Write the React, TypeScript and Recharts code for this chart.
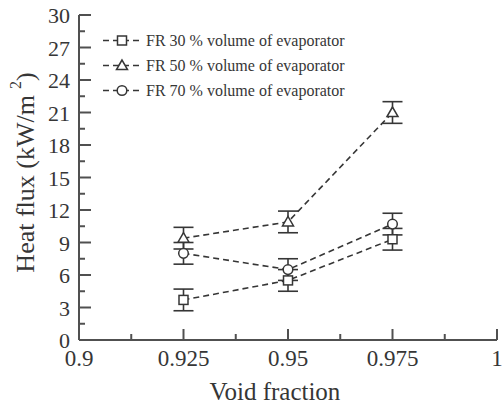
import React from "react";
import { LineChart, Line, XAxis, YAxis, ErrorBar, Legend } from "recharts";

const voidFraction = [0.925, 0.95, 0.975];
const fr30 = [3.7, 5.5, 9.3];
const fr50 = [9.4, 10.9, 21.0];
const fr70 = [8.0, 6.5, 10.7];
const errors = [1.0, 1.0, 1.0];

const xTicks = [0.9, 0.9125, 0.925, 0.9375, 0.95, 0.9625, 0.975, 0.9875, 1];
const xMajor = [0.9, 0.925, 0.95, 0.975, 1];
const yTicks = [0, 1.5, 3, 4.5, 6, 7.5, 9, 10.5, 12, 13.5, 15, 16.5, 18, 19.5, 21, 22.5, 24, 25.5, 27, 28.5, 30];
const yMajor = [0, 3, 6, 9, 12, 15, 18, 21, 24, 27, 30];

const seriesNames = [
  "FR 30 % volume of evaporator",
  "FR 50 % volume of evaporator",
  "FR 70 % volume of evaporator",
];
const markerShapes = ["square", "triangle", "circle"];

const data = voidFraction.map((v, i) => ({
  x: v,
  fr30: fr30[i],
  fr50: fr50[i],
  fr70: fr70[i],
  err: errors[i],
}));

const INK = "#363636";
const AXIS = "#505050";
const FONT = "'Liberation Serif', 'Times New Roman', serif";

const Marker = ({ shape, cx, cy }: { shape: string; cx: number; cy: number }) => {
  if (shape === "square")
    return <rect x={cx - 4.5} y={cy - 4.5} width={9} height={9} fill="#fff" stroke={INK} strokeWidth={1.5} />;
  if (shape === "triangle")
    return (
      <polygon
        points={`${cx},${cy - 5.5} ${cx - 5.5},${cy + 4} ${cx + 5.5},${cy + 4}`}
        fill="#fff"
        stroke={INK}
        strokeWidth={1.5}
      />
    );
  return <circle cx={cx} cy={cy} r={4.8} fill="#fff" stroke={INK} strokeWidth={1.5} />;
};

const makeDot = (shape: string) => (props: any) => {
  const { cx, cy, index } = props;
  if (cx == null || cy == null) return <g key={index} />;
  return <Marker key={index} shape={shape} cx={cx} cy={cy} />;
};

const BottomTick = (props: any) => {
  const { x, y, payload } = props;
  const major = xMajor.includes(payload.value);
  return (
    <g>
      <line x1={x} y1={y} x2={x} y2={y - (major ? 11 : 6)} stroke={AXIS} strokeWidth={2} />
      {major && (
        <text x={x} y={y + 26} textAnchor="middle" fontSize={23} fontFamily={FONT} fill={INK}>
          {String(payload.value)}
        </text>
      )}
    </g>
  );
};

const TopTick = (props: any) => {
  const { x, y, payload } = props;
  const major = xMajor.includes(payload.value);
  return <line x1={x} y1={y} x2={x} y2={y + (major ? 11 : 6)} stroke={AXIS} strokeWidth={2} />;
};

const LeftTick = (props: any) => {
  const { x, y, payload } = props;
  const major = yMajor.includes(payload.value);
  return (
    <g>
      <line x1={x} y1={y} x2={x + (major ? 12 : 6)} y2={y} stroke={AXIS} strokeWidth={2} />
      {major && (
        <text x={x - 9} y={y + 8} textAnchor="end" fontSize={22} fontFamily={FONT} fill={INK}>
          {String(payload.value)}
        </text>
      )}
    </g>
  );
};

const RightTick = (props: any) => {
  const { x, y, payload } = props;
  const major = yMajor.includes(payload.value);
  return <line x1={x} y1={y} x2={x - (major ? 12 : 6)} y2={y} stroke={AXIS} strokeWidth={2} />;
};

const YLabel = (props: any) => {
  const { viewBox } = props;
  const cy = viewBox.y + viewBox.height / 2 - 5;
  return (
    <text
      x={25}
      y={cy}
      transform={`rotate(-90, 25, ${cy})`}
      textAnchor="middle"
      dominantBaseline="central"
      fontSize={26}
      fontFamily={FONT}
      fill={INK}
    >
      Heat flux (kW/m
      <tspan dx={6} dy={-10} fontSize={16}>2</tspan>
      <tspan dy={10}>)</tspan>
    </text>
  );
};

const XLabel = (props: any) => {
  const { viewBox } = props;
  const cx = viewBox.x + viewBox.width / 2 - 13;
  return (
    <text x={cx} y={400} textAnchor="middle" fontSize={25} fontFamily={FONT} fill={INK}>
      Void fraction
    </text>
  );
};

const LegendContent = () => (
  <div style={{ fontFamily: FONT, fontSize: 16, color: INK, lineHeight: "25px" }}>
    {seriesNames.map((name, i) => (
      <div key={name} style={{ display: "flex", alignItems: "center", whiteSpace: "nowrap" }}>
        <svg width={42} height={25} style={{ marginRight: 2 }}>
          <line x1={1} y1={12.5} x2={40} y2={12.5} stroke={INK} strokeWidth={1.5} strokeDasharray="6 4" />
          <Marker shape={markerShapes[i]} cx={20} cy={12.5} />
        </svg>
        <span>{name}</span>
      </div>
    ))}
  </div>
);

export default function App() {
  return (
    <div style={{ position: "absolute", left: 0, top: 0, width: 502, height: 405, background: "#fff" }}>
      <LineChart width={502} height={405} data={data} margin={{ top: 15, right: 5, bottom: 0, left: 0 }}>
        <XAxis
          xAxisId="bottom"
          dataKey="x"
          type="number"
          domain={[0.9, 1]}
          ticks={xTicks}
          interval={0}
          tickSize={0}
          tickMargin={0}
          height={65}
          stroke={AXIS}
          axisLine={{ stroke: AXIS, strokeWidth: 2 }}
          tick={<BottomTick />}
          label={<XLabel />}
        />
        <XAxis
          xAxisId="top"
          orientation="top"
          dataKey="x"
          type="number"
          domain={[0.9, 1]}
          ticks={xTicks}
          interval={0}
          tickSize={0}
          tickMargin={0}
          height={0}
          axisLine={{ stroke: AXIS, strokeWidth: 2 }}
          tick={<TopTick />}
        />
        <YAxis
          yAxisId="left"
          type="number"
          domain={[0, 30]}
          ticks={yTicks}
          interval={0}
          tickSize={0}
          tickMargin={0}
          width={79}
          axisLine={{ stroke: AXIS, strokeWidth: 2 }}
          tick={<LeftTick />}
          label={<YLabel />}
        />
        <YAxis
          yAxisId="right"
          orientation="right"
          type="number"
          domain={[0, 30]}
          ticks={yTicks}
          interval={0}
          tickSize={0}
          tickMargin={0}
          width={0}
          axisLine={{ stroke: AXIS, strokeWidth: 2 }}
          tick={<RightTick />}
        />
        <Legend
          layout="vertical"
          align="center"
          verticalAlign="middle"
          content={<LegendContent />}
          wrapperStyle={{ left: 102, top: 28, width: 280 }}
        />
        {["fr30", "fr50", "fr70"].map((key, i) => (
          <Line
            key={key}
            xAxisId="bottom"
            yAxisId="left"
            dataKey={key}
            stroke={INK}
            strokeWidth={1.6}
            strokeDasharray="6 4"
            dot={makeDot(markerShapes[i])}
            activeDot={false}
            isAnimationActive={false}
          >
            <ErrorBar dataKey="err" direction="y" width={10} stroke={INK} strokeWidth={1.6} />
          </Line>
        ))}
      </LineChart>
    </div>
  );
}
